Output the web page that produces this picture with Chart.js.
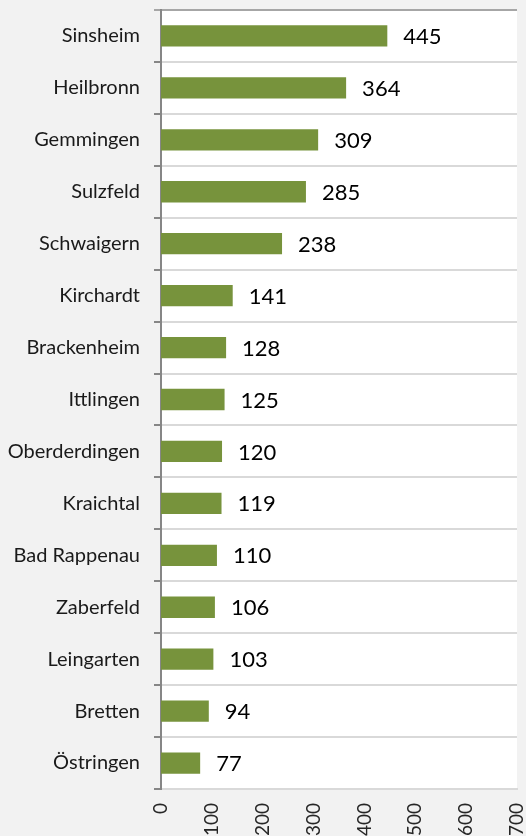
<!DOCTYPE html>
<html>
<head>
<meta charset="utf-8">
<script src="https://cdn.jsdelivr.net/npm/chart.js@4.4.1/dist/chart.umd.min.js"></script>
<style>
  html, body { margin: 0; padding: 0; background: #f2f2f2; overflow: hidden; }
  #wrap { width: 526px; height: 836px; position: relative; }
</style>
</head>
<body>
<div id="wrap"><canvas id="c" width="526" height="836"></canvas></div>
<script>
const categories = ["Sinsheim", "Heilbronn", "Gemmingen", "Sulzfeld", "Schwaigern", "Kirchardt", "Brackenheim", "Ittlingen", "Oberderdingen", "Kraichtal", "Bad Rappenau", "Zaberfeld", "Leingarten", "Bretten", "Östringen"];
const values = [445, 364, 309, 285, 238, 141, 128, 125, 120, 119, 110, 106, 103, 94, 77];
const xTicks = [0, 100, 200, 300, 400, 500, 600, 700];

const FONT = "Lato, 'Open Sans', 'Liberation Sans', sans-serif";

const plotBg = {
  id: 'plotBg',
  beforeDraw(chart) {
    const { ctx, chartArea: a } = chart;
    ctx.save();
    ctx.fillStyle = '#ffffff';
    ctx.fillRect(a.left, a.top, a.right - a.left, a.bottom - a.top);
    ctx.restore();
  }
};

const valueLabels = {
  id: 'valueLabels',
  afterDatasetsDraw(chart) {
    const { ctx } = chart;
    const meta = chart.getDatasetMeta(0);
    ctx.save();
    ctx.font = "22px " + FONT;
    ctx.fillStyle = '#000000';
    ctx.textAlign = 'left';
    ctx.textBaseline = 'middle';
    meta.data.forEach((bar, i) => {
      ctx.fillText(String(values[i]), bar.x + 16, bar.y + 1);
    });
    ctx.restore();
  }
};

new Chart(document.getElementById('c'), {
  type: 'bar',
  data: {
    labels: categories,
    datasets: [{
      data: values,
      backgroundColor: '#77933C',
      borderWidth: 0,
      barPercentage: 0.41,
      categoryPercentage: 1.0
    }]
  },
  options: {
    indexAxis: 'y',
    responsive: false,
    animation: false,
    layout: { padding: { top: 10, right: 9, left: 0, bottom: 0 } },
    plugins: { legend: { display: false }, tooltip: { enabled: false } },
    scales: {
      x: {
        type: 'linear',
        min: 0,
        max: 700,
        afterBuildTicks(scale) { scale.ticks = xTicks.map(v => ({ value: v })); },
        afterFit(scale) { scale.height = 47; scale.paddingLeft = 0; scale.paddingRight = 0; },
        grid: { display: false, drawTicks: false },
        border: { display: true, color: '#d9d9d9', width: 2 },
        ticks: {
          minRotation: 90,
          maxRotation: 90,
          padding: 14,
          color: '#262626',
          font: { family: FONT, size: 19 }
        }
      },
      y: {
        type: 'category',
        afterFit(scale) { scale.width = 161; scale.paddingTop = 0; scale.paddingBottom = 0; },
        grid: {
          display: true,
          offset: true,
          drawOnChartArea: true,
          drawTicks: true,
          tickLength: 7,
          lineWidth: 2,
          color: (c) => c.index === 0 ? '#a6a6a6' : '#d9d9d9',
          tickColor: (c) => c.index === 0 ? '#a6a6a6' : '#868686'
        },
        border: { display: true, color: '#868686', width: 2 },
        ticks: {
          padding: 14,
          color: '#1a1a1a',
          font: { family: FONT, size: 20 }
        }
      }
    }
  },
  plugins: [plotBg, valueLabels]
});
</script>
</body>
</html>
